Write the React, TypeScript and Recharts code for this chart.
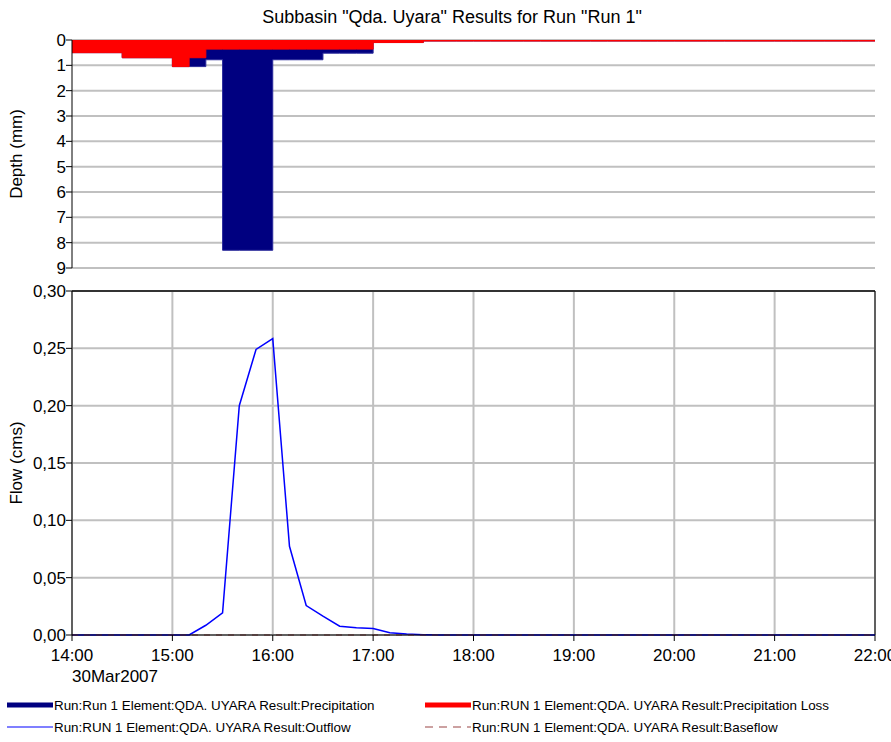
import {
  ComposedChart,
  Area,
  Line,
  XAxis,
  YAxis,
  CartesianGrid,
  ReferenceLine,
} from "recharts";

// minutes after 14:00, 10-minute steps
const minutes = [
  0, 10, 20, 30, 40, 50, 60, 70, 80, 90, 100, 110, 120, 130, 140, 150, 160, 170, 180,
  190, 200, 210, 220, 230, 240, 250, 260, 270, 280, 290, 300, 310, 320, 330, 340, 350,
  360, 370, 380, 390, 400, 410, 420, 430, 440, 450, 460, 470, 480,
];

const hourTicks = [0, 60, 120, 180, 240, 300, 360, 420, 480];
const hourLabels = ["14:00", "15:00", "16:00", "17:00", "18:00", "19:00", "20:00", "21:00", "22:00"];

// depth per interval (mm), step-after
const precipitation = [
  0.5, 0.5, 0.5, 0.7, 0.7, 0.7, 1.05, 1.05, 0.78, 8.3, 8.3, 8.3, 0.78, 0.78, 0.78, 0.52,
  0.52, 0.52, 0.1, 0.1, 0.1, 0.04, 0.04, 0.04, 0.04, 0.04, 0.04, 0.04, 0.04, 0.04, 0.04,
  0.04, 0.04, 0.04, 0.04, 0.04, 0.04, 0.04, 0.04, 0.04, 0.04, 0.04, 0.04, 0.04, 0.04,
  0.04, 0.04, 0.04, 0.04,
];
const precipLoss = [
  0.5, 0.5, 0.5, 0.7, 0.7, 0.7, 1.05, 0.7, 0.36, 0.36, 0.36, 0.36, 0.36, 0.36, 0.36, 0.36,
  0.36, 0.36, 0.1, 0.1, 0.1, 0.04, 0.04, 0.04, 0.04, 0.04, 0.04, 0.04, 0.04, 0.04, 0.04,
  0.04, 0.04, 0.04, 0.04, 0.04, 0.04, 0.04, 0.04, 0.04, 0.04, 0.04, 0.04, 0.04, 0.04,
  0.04, 0.04, 0.04, 0.04,
];

// flow (cms)
const outflow = [
  0, 0, 0, 0, 0, 0, 0, 0, 0.0085, 0.0193, 0.2, 0.249, 0.2585, 0.0774, 0.0257, 0.0164,
  0.0077, 0.0063, 0.0057, 0.002, 0.0008, 0.0003, 0, 0, 0, 0, 0, 0, 0, 0, 0, 0, 0, 0, 0, 0,
  0, 0, 0, 0, 0, 0, 0, 0, 0, 0, 0, 0, 0,
];
const baseflow = minutes.map(() => 0);

const depthTicks = [0, 1, 2, 3, 4, 5, 6, 7, 8, 9];
const flowTicks = [0, 0.05, 0.1, 0.15, 0.2, 0.25, 0.3];

const rows = minutes.map((m, i) => ({
  t: m,
  precip: precipitation[i],
  loss: precipLoss[i],
  outflow: outflow[i],
  baseflow: baseflow[i],
}));

const FONT = "Liberation Sans, Arial, sans-serif";
const GRID = "#C0C0C0";
const tickStyle = { fontSize: 17, fill: "#000", fontFamily: FONT };
const labelStyle = { fontSize: 17, fill: "#000", fontFamily: FONT, textAnchor: "middle" as const };

const fmtHour = (v: number) => hourLabels[hourTicks.indexOf(v)] ?? "";
const fmtFlow = (v: number) => v.toFixed(2).replace(".", ",");

export default function App() {
  return (
    <div style={{ position: "absolute", left: 0, top: 0, width: 891, height: 742, background: "#fff", fontFamily: FONT }}>
      <div style={{ position: "absolute", left: 0, top: 7, width: 904, textAlign: "center", fontSize: 18 }}>
        Subbasin "Qda. Uyara" Results for Run "Run 1"
      </div>

      {/* depth panel */}
      <div style={{ position: "absolute", left: 0, top: 0 }}>
        <ComposedChart width={891} height={284} data={rows} margin={{ top: 40, right: 16, bottom: 16, left: 0 }}>
          <CartesianGrid stroke={GRID} strokeWidth={2} horizontalValues={depthTicks} verticalValues={hourTicks} />
          <XAxis dataKey="t" type="number" domain={[0, 480]} ticks={hourTicks} tick={false} tickLine={false} height={0} axisLine={{ stroke: "#000" }} />
          <YAxis
            type="number"
            domain={[0, 9]}
            ticks={depthTicks}
            interval={0}
            reversed
            width={72}
            tick={tickStyle}
            tickSize={6}
            tickMargin={0}
            tickLine={{ stroke: "#000" }}
            axisLine={{ stroke: "#000" }}
            label={{ value: "Depth (mm)", angle: -90, position: "insideLeft", offset: 16, style: labelStyle }}
          />
          <Area type="stepAfter" dataKey="precip" stroke="#2a2a9a" strokeWidth={1} fill="#000080" fillOpacity={1} isAnimationActive={false} dot={false} />
          <Area type="stepAfter" dataKey="loss" stroke="#FF0000" strokeWidth={1} fill="#FF0000" fillOpacity={1} isAnimationActive={false} dot={false} />
        </ComposedChart>
      </div>

      {/* flow panel */}
      <div style={{ position: "absolute", left: 0, top: 270 }}>
        <ComposedChart width={891} height={400} data={rows} margin={{ top: 21, right: 16, bottom: 0, left: 0 }}>
          <CartesianGrid stroke={GRID} strokeWidth={2} horizontalValues={flowTicks} verticalValues={hourTicks} />
          <XAxis
            dataKey="t"
            type="number"
            domain={[0, 480]}
            ticks={hourTicks}
            tickFormatter={fmtHour}
            height={35}
            tick={tickStyle}
            tickSize={6}
            tickMargin={8}
            tickLine={{ stroke: "#000" }}
            axisLine={{ stroke: "#000" }}
            interval={0}
          />
          <YAxis
            type="number"
            domain={[0, 0.3]}
            ticks={flowTicks}
            interval={0}
            tickFormatter={fmtFlow}
            width={72}
            tick={tickStyle}
            tickSize={6}
            tickMargin={0}
            tickLine={{ stroke: "#000" }}
            axisLine={{ stroke: "#000" }}
            label={{ value: "Flow (cms)", angle: -90, position: "insideLeft", offset: 16, style: labelStyle }}
          />
          <ReferenceLine y={0.3} stroke="#333" strokeWidth={2} />
          <ReferenceLine x={480} stroke="#000" strokeWidth={1} />
          <Line type="linear" dataKey="outflow" stroke="#0000FF" strokeWidth={1.5} dot={false} isAnimationActive={false} />
          <Line type="linear" dataKey="baseflow" stroke="#994444" strokeWidth={1} strokeDasharray="6 6" dot={false} isAnimationActive={false} />
        </ComposedChart>
      </div>

      <div style={{ position: "absolute", left: 72, top: 667, fontSize: 17 }}>30Mar2007</div>

      {/* legend */}
      <div style={{ position: "absolute", left: 0, top: 696, width: 891, fontSize: 13.4 }}>
        <div style={{ position: "absolute", left: 7, top: 0, display: "flex", alignItems: "center", whiteSpace: "nowrap" }}>
          <svg width={47} height={18}><line x1={0} y1={9} x2={46} y2={9} stroke="#000080" strokeWidth={5} /></svg>
          <span>Run:Run 1 Element:QDA. UYARA Result:Precipitation</span>
        </div>
        <div style={{ position: "absolute", left: 425, top: 0, display: "flex", alignItems: "center", whiteSpace: "nowrap" }}>
          <svg width={47} height={18}><line x1={0} y1={9} x2={46} y2={9} stroke="#FF0000" strokeWidth={5} /></svg>
          <span>Run:RUN 1 Element:QDA. UYARA Result:Precipitation Loss</span>
        </div>
        <div style={{ position: "absolute", left: 7, top: 22, display: "flex", alignItems: "center", whiteSpace: "nowrap" }}>
          <svg width={47} height={18}><line x1={0} y1={9} x2={46} y2={9} stroke="#0000FF" strokeWidth={1.2} /></svg>
          <span>Run:RUN 1 Element:QDA. UYARA Result:Outflow</span>
        </div>
        <div style={{ position: "absolute", left: 425, top: 22, display: "flex", alignItems: "center", whiteSpace: "nowrap" }}>
          <svg width={47} height={18}><line x1={0} y1={9} x2={46} y2={9} stroke="#994444" strokeWidth={1.2} strokeDasharray="8 6" /></svg>
          <span>Run:RUN 1 Element:QDA. UYARA Result:Baseflow</span>
        </div>
      </div>
    </div>
  );
}
